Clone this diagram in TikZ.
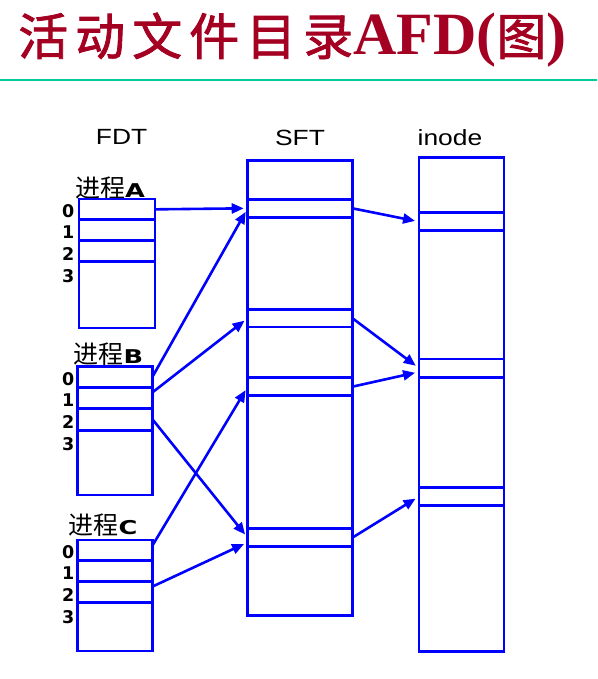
\documentclass[tikz,border=0pt]{standalone}
\usepackage{fontspec}
\setmainfont{Liberation Sans}
\newfontfamily\cjkfont{Noto Sans CJK SC}
\newfontfamily\titlecjk{Noto Sans CJK SC}[LetterSpace=14, FakeBold=1.6]
\newfontfamily\titleserif{Liberation Serif}
\newfontfamily\hdrfont{Liberation Sans}[FakeStretch=1.2]
\newfontfamily\idxfont{DejaVu Sans}
\newfontfamily\procfont{DejaVu Sans}[FakeStretch=1.35]
\usetikzlibrary{arrows.meta}
\definecolor{afdtitle}{HTML}{A30022}
\definecolor{afdrule}{HTML}{00CC99}
\definecolor{afdblue}{HTML}{0000FF}

\tikzset{
  tblbox/.style={draw=afdblue, line width=2.8pt, inner sep=0pt, outer sep=0pt, anchor=north west},
  link/.style={draw=afdblue, line width=2.6pt, -{Triangle[length=12pt, width=10pt]}, shorten >=4pt},
  hdr/.style={inner sep=0pt, anchor=base, font=\hdrfont\fontsize{22}{22}\selectfont},
  proclabel/.style={inner sep=0pt, anchor=base west},
  idx/.style={inner sep=0pt, anchor=base east, font=\idxfont\bfseries\fontsize{17.5}{17.5}\selectfont}
}

\begin{document}
\begin{tikzpicture}[x=1pt, y=-1pt]
\useasboundingbox (0,0) rectangle (597,679);

% Title
\node[anchor=base west, inner sep=0pt, text=afdtitle] (title) at (18,55)
  {\titlecjk\fontsize{50}{50}\selectfont 活动文件目录%
   \titleserif\bfseries\fontsize{60}{60}\selectfont AFD(%
   \titlecjk\mdseries\fontsize{50}{50}\selectfont 图%
   \titleserif\bfseries\fontsize{60}{60}\selectfont )};
\draw[afdrule, line width=1.5pt] (0,80) -- (597,80);

% Headers
\node[hdr] (fdt) at (121.6,145) {FDT};
\node[hdr] (sft) at (300,146) {SFT};
\node[hdr] (inode) at (450,146) {inode};

% Process A
\node[proclabel] (labA) at (75,197) {{\cjkfont\fontsize{25}{25}\selectfont 进程}{\procfont\bfseries\fontsize{19}{19}\selectfont A}};
\node[tblbox, minimum width=76pt, minimum height=129pt] (fdtA) at (79,199) {};
\node[tblbox, minimum width=76pt, minimum height=20.7pt] (A0) at (79,199) {};
\node[tblbox, minimum width=76pt, minimum height=20.7pt] (A1) at (79,219.7) {};
\node[tblbox, minimum width=76pt, minimum height=20.7pt] (A2) at (79,240.4) {};
\foreach \i in {0,...,3}
  \node[idx] (dA\i) at (74.5,{217+21.8*\i}) {\i};

% Process B
\node[proclabel] (labB) at (73.3,363.3) {{\cjkfont\fontsize{25}{25}\selectfont 进程}{\procfont\bfseries\fontsize{19}{19}\selectfont B}};
\node[tblbox, minimum width=74.6pt, minimum height=128.3pt] (fdtB) at (77.7,366.7) {};
\node[tblbox, minimum width=74.6pt, minimum height=20.7pt] (B0) at (77.7,366.7) {};
\node[tblbox, minimum width=74.6pt, minimum height=20.7pt] (B1) at (77.7,387.4) {};
\node[tblbox, minimum width=74.6pt, minimum height=22pt] (B2) at (77.7,408.1) {};
\foreach \i in {0,...,3}
  \node[idx] (dB\i) at (74.5,{385+21.8*\i}) {\i};

% Process C
\node[proclabel] (labC) at (68.3,534.3) {{\cjkfont\fontsize{25}{25}\selectfont 进程}{\procfont\bfseries\fontsize{19}{19}\selectfont C}};
\node[tblbox, minimum width=75.4pt, minimum height=111pt] (fdtC) at (77.3,540) {};
\node[tblbox, minimum width=75.4pt, minimum height=20.7pt] (C0) at (77.3,540) {};
\node[tblbox, minimum width=75.4pt, minimum height=20.7pt] (C1) at (77.3,560.7) {};
\node[tblbox, minimum width=75.4pt, minimum height=20.7pt] (C2) at (77.3,581.4) {};
\foreach \i in {0,...,3}
  \node[idx] (dC\i) at (74.5,{558.3+21.6*\i}) {\i};

% SFT
\node[tblbox, minimum width=104.6pt, minimum height=454.6pt] (sftbox) at (247.7,160.7) {};
\node[tblbox, minimum width=104.6pt, minimum height=18pt] (s1) at (247.7,199.3) {};
\node[tblbox, minimum width=104.6pt, minimum height=17.7pt] (s2) at (247.7,309.3) {};
\node[tblbox, minimum width=104.6pt, minimum height=18pt] (s3) at (247.7,377.7) {};
\node[tblbox, minimum width=104.6pt, minimum height=18pt] (s4) at (247.7,528.7) {};

% inode
\node[tblbox, minimum width=85pt, minimum height=494pt] (inodebox) at (419,157.7) {};
\node[tblbox, minimum width=85pt, minimum height=18pt] (i1) at (419,212.7) {};
\node[tblbox, minimum width=85pt, minimum height=18.3pt] (i2) at (419,359) {};
\node[tblbox, minimum width=85pt, minimum height=18.4pt] (i3) at (419,487.3) {};

% FDT -> SFT
\draw[link] (A0.east) -- (s1.west);
\draw[link] (B0.east) -- (s1.west);
\draw[link] (B1.8) -- (s2.west);
\draw[link] (B2.east) -- (s4.west);
\draw[link] (C0.8) -- (s3.west);
\draw[link] (C2.8) -- (s4.185);

% SFT -> inode
\draw[link] (s1.east) -- (i1.west);
\draw[link] (s2.east) -- (i2.west);
\draw[link] (s3.east) -- (i2.185);
\draw[link] (s4.east) -- (i3.west);
\end{tikzpicture}
\end{document}
